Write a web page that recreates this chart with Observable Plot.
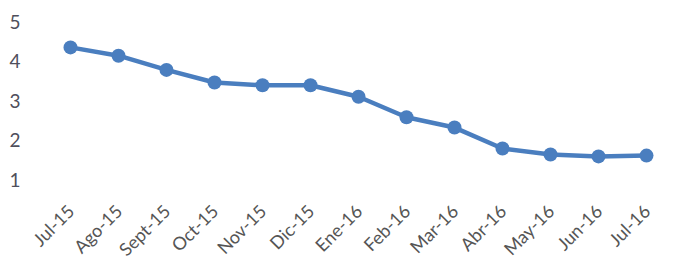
<!DOCTYPE html>
<html>
<head>
<meta charset="utf-8">
<script src="https://cdn.jsdelivr.net/npm/d3@7"></script>
<script src="https://cdn.jsdelivr.net/npm/@observablehq/plot@0.6"></script>
<style>
  html, body { margin: 0; padding: 0; background: #fff; }
  svg { display: block; }
</style>
</head>
<body>
<div id="chart"></div>
<script>
const months = ["Jul-15","Ago-15","Sept-15","Oct-15","Nov-15","Dic-15","Ene-16","Feb-16","Mar-16","Abr-16","May-16","Jun-16","Jul-16"];
const values = [4.37, 4.16, 3.80, 3.48, 3.41, 3.41, 3.12, 2.60, 2.34, 1.81, 1.66, 1.61, 1.63];
const yTicks = [1, 2, 3, 4, 5];

const data = months.map((m, i) => ({month: m, value: values[i]}));
const blue = "#4a7ebf";

const chart = Plot.plot({
  width: 674,
  height: 264,
  marginLeft: 67,
  marginRight: 25,
  marginTop: 22,
  marginBottom: 84,
  style: {fontFamily: "Lato, 'Open Sans', sans-serif", background: "#fff", color: "#555"},
  x: {type: "point", domain: months, padding: 0},
  y: {domain: [1, 5]},
  marks: [
    Plot.axisY({ticks: yTicks, tickFormat: "d", tickSize: 0, tickPadding: 47, fontSize: 19, label: null, fill: "#4f4f5c"}),
    Plot.axisX({tickSize: 0, tickRotate: -45, tickPadding: 28, fontSize: 18, label: null, fill: "#555", dx: 1}),
    Plot.line(data, {x: "month", y: "value", stroke: blue, strokeWidth: 4.5}),
    Plot.dot(data, {x: "month", y: "value", r: 7, fill: blue, stroke: "none"})
  ]
});
document.getElementById("chart").appendChild(chart);
</script>
</body>
</html>
